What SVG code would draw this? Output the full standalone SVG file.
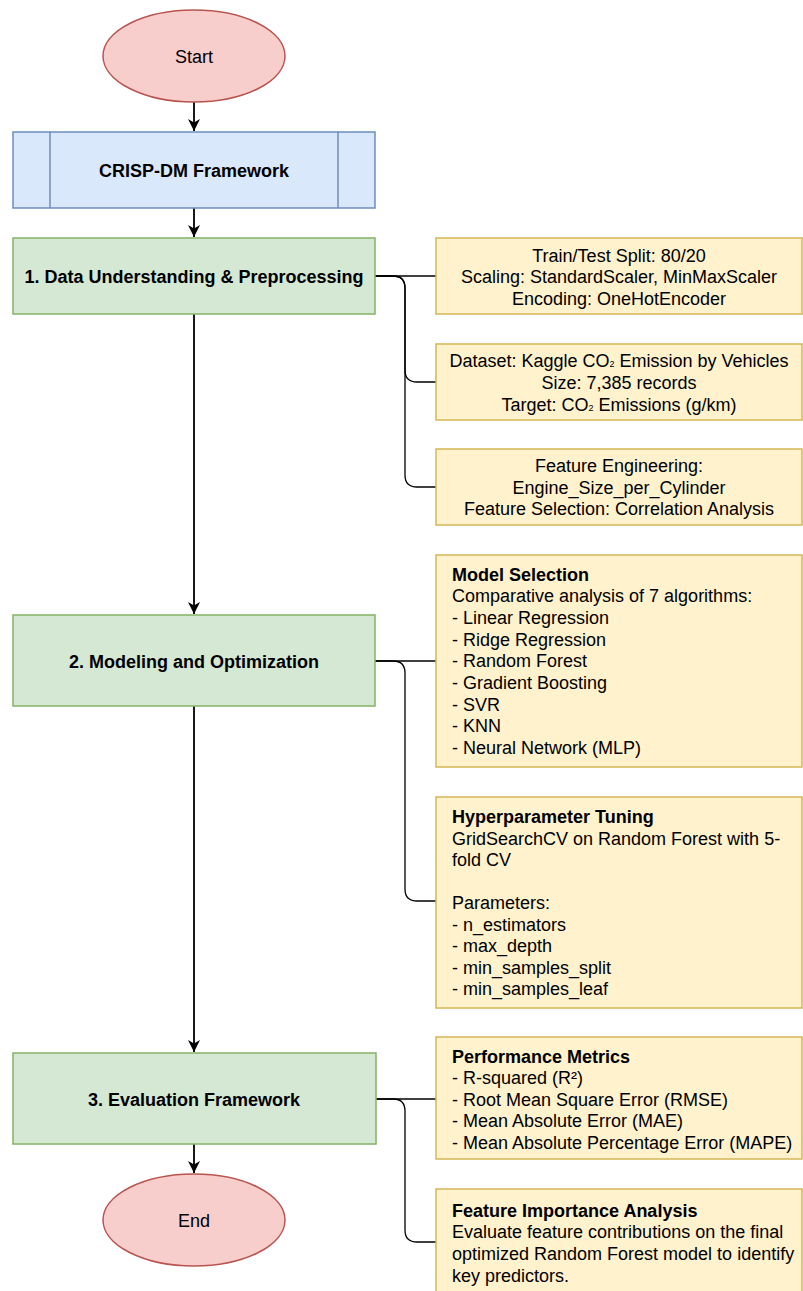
<svg xmlns="http://www.w3.org/2000/svg" width="803" height="1291" viewBox="0 0 803 1291">
<style>
text{font-family:"Liberation Sans",Arial,sans-serif;font-size:18px;fill:#000}
.b{font-weight:bold}
.c{text-anchor:middle}
.term{fill:#f8cecc;stroke:#b85450;stroke-width:1.5}
.blue{fill:#dae8fc;stroke:#6c8ebf;stroke-width:1.5}
.green{fill:#d5e8d4;stroke:#82b366;stroke-width:1.5}
.note{fill:#fff2cc;stroke:#d6b656;stroke-width:1.5}
.flow{fill:none;stroke:#000;stroke-width:1.8}
.br{fill:none;stroke:#000;stroke-width:1.3}
</style>
<defs>
<marker id="arr" viewBox="0 0 10 10" refX="10" refY="5" markerWidth="12" markerHeight="12" markerUnits="userSpaceOnUse" orient="auto">
<path d="M0,0 L10,5 L0,10 L3,5 z" fill="#000"/>
</marker>
</defs>
<rect width="803" height="1291" fill="#fff"/>

<g id="connectors">
<path class="flow" d="M194,102 V131" marker-end="url(#arr)"/>
<path class="flow" d="M194,208 V237" marker-end="url(#arr)"/>
<path class="flow" d="M194,314 V614" marker-end="url(#arr)"/>
<path class="flow" d="M194,706 V1052" marker-end="url(#arr)"/>
<path class="flow" d="M194,1144 V1173" marker-end="url(#arr)"/>
<path class="br" d="M375,276 H436"/>
<path class="br" d="M375,276 H393 Q405,276 405,288 V370 Q405,382 417,382 H436"/>
<path class="br" d="M375,276 H393 Q405,276 405,288 V475 Q405,487 417,487 H436"/>
<path class="br" d="M375,661 H436"/>
<path class="br" d="M375,661 H393 Q405,661 405,673 V889 Q405,901 417,901 H436"/>
<path class="br" d="M376,1099 H436"/>
<path class="br" d="M376,1099 H393 Q405,1099 405,1111 V1230 Q405,1242 417,1242 H436"/>
</g>

<g id="start">
<ellipse class="term" cx="194" cy="56" rx="91" ry="46"/>
<text class="c" x="194" y="62.5">Start</text>
</g>

<g id="crisp">
<rect class="blue" x="13" y="132" width="362" height="76"/>
<line class="blue" x1="50" y1="132" x2="50" y2="208"/>
<line class="blue" x1="338" y1="132" x2="338" y2="208"/>
<text class="c b" x="194" y="176.5">CRISP-DM Framework</text>
</g>

<g id="step1">
<rect class="green" x="13" y="238" width="362" height="76"/>
<text class="c b" x="194" y="282.5">1. Data Understanding &amp; Preprocessing</text>
</g>

<g id="step2">
<rect class="green" x="13" y="615" width="362" height="91"/>
<text class="c b" x="194" y="667.5">2. Modeling and Optimization</text>
</g>

<g id="step3">
<rect class="green" x="13" y="1053" width="363" height="91"/>
<text class="c b" x="194" y="1105.5">3. Evaluation Framework</text>
</g>

<g id="end">
<ellipse class="term" cx="194" cy="1220" rx="91" ry="46"/>
<text class="c" x="194" y="1226.5">End</text>
</g>

<g id="noteSplit">
<rect class="note" x="436" y="238" width="366" height="76"/>
<text class="c" x="619" y="261.5">Train/Test Split: 80/20</text>
<text class="c" x="619" y="283">Scaling: StandardScaler, MinMaxScaler</text>
<text class="c" x="619" y="305">Encoding: OneHotEncoder</text>
</g>

<g id="noteDataset">
<rect class="note" x="436" y="344" width="366" height="76"/>
<text class="c" x="619" y="367">Dataset: Kaggle CO<tspan font-size="9">2</tspan> Emission by Vehicles</text>
<text class="c" x="619" y="389">Size: 7,385 records</text>
<text class="c" x="619" y="410.5">Target: CO<tspan font-size="9">2</tspan> Emissions (g/km)</text>
</g>

<g id="noteFeature">
<rect class="note" x="436" y="449" width="366" height="76"/>
<text class="c" x="619" y="472">Feature Engineering:</text>
<text class="c" x="619" y="493.5">Engine_Size_per_Cylinder</text>
<text class="c" x="619" y="515">Feature Selection: Correlation Analysis</text>
</g>

<g id="noteModel">
<rect class="note" x="436" y="555" width="366" height="212"/>
<text x="452" y="580.5" class="b">Model Selection</text>
<text x="452" y="602">Comparative analysis of 7 algorithms:</text>
<text x="452" y="624">- Linear Regression</text>
<text x="452" y="645.5">- Ridge Regression</text>
<text x="452" y="667">- Random Forest</text>
<text x="452" y="689">- Gradient Boosting</text>
<text x="452" y="710.5">- SVR</text>
<text x="452" y="732">- KNN</text>
<text x="452" y="754">- Neural Network (MLP)</text>
</g>

<g id="noteTuning">
<rect class="note" x="436" y="797" width="366" height="211"/>
<text x="452" y="823" class="b">Hyperparameter Tuning</text>
<text x="452" y="844.5">GridSearchCV on Random Forest with 5-</text>
<text x="452" y="866">fold CV</text>
<text x="452" y="909">Parameters:</text>
<text x="452" y="930.5">- n_estimators</text>
<text x="452" y="952">- max_depth</text>
<text x="452" y="973.5">- min_samples_split</text>
<text x="452" y="995">- min_samples_leaf</text>
</g>

<g id="noteMetrics">
<rect class="note" x="436" y="1037" width="366" height="122"/>
<text x="452" y="1062.5" class="b">Performance Metrics</text>
<text x="452" y="1084">- R-squared (R²)</text>
<text x="452" y="1105.5">- Root Mean Square Error (RMSE)</text>
<text x="452" y="1127">- Mean Absolute Error (MAE)</text>
<text x="452" y="1149">- Mean Absolute Percentage Error (MAPE)</text>
</g>

<g id="noteImportance">
<rect class="note" x="436" y="1189" width="366" height="110"/>
<text x="452" y="1217" class="b">Feature Importance Analysis</text>
<text x="452" y="1238">Evaluate feature contributions on the final</text>
<text x="452" y="1260">optimized Random Forest model to identify</text>
<text x="452" y="1282">key predictors.</text>
</g>
</svg>
